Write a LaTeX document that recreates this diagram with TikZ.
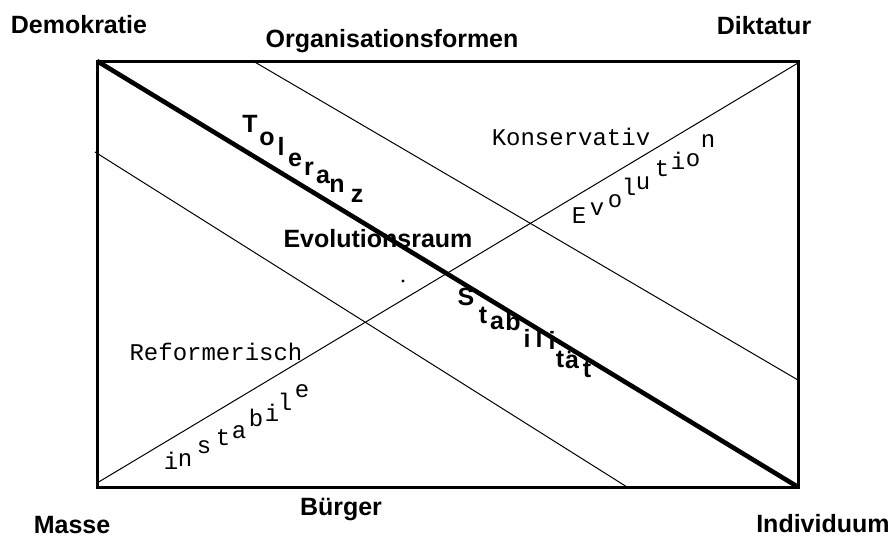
\documentclass[tikz,border=0pt]{standalone}
\usepackage{fontspec}
\setmainfont{Liberation Sans}
\setmonofont{Liberation Mono}
\usepackage{tikz}
\usetikzlibrary{calc}
\tikzset{
  lbl/.style={font=\fontsize{12.5}{14}\selectfont\bfseries, inner sep=0pt},
  mono/.style={font=\fontsize{12}{14}\selectfont\ttfamily, inner sep=0pt},
  frame/.style={line width=1.5pt, line join=miter},
  mainline/.style={line width=2.3pt},
  thinline/.style={line width=0.5pt}
}
\begin{document}
\begin{tikzpicture}[x=0.5pt, y=-0.5pt]
\useasboundingbox (0,0) rectangle (895,537);
% corners
\coordinate (tl) at (97,61);
\coordinate (tr) at (798,61);
\coordinate (br) at (798,487);
\coordinate (bl) at (97,487);
% corner and side labels
\node[lbl] (demo) at (79,25) {Demokratie};
\node[lbl] (orga) at (392,41) {Organisationsformen};
\node[lbl] (dikt) at (764,26) {Diktatur};
\node[lbl] (masse) at (72,525) {Masse};
\node[lbl] (buerger) at (341,509) {Bürger};
\node[lbl, anchor=east] (indi) at (890,524) {Individuum};
% field labels
\node[mono] (kons) at (571,137) {Konservativ};
\node[mono] (ref) at (216,352) {Reformerisch};
\node[lbl] (raum) at (378,239) {Evolutionsraum};
% stepped letters
\foreach \c/\x/\y [count=\i] in {T/250/124, o/267/139, l/281/146, e/295/160,
    r/309/169, a/323/177, n/337/186, z/357/196}
  \node[lbl] (tol\i) at (\x,\y) {\c};
\foreach \c/\x/\y [count=\i] in {S/466/297, t/483/315, a/497/323, b/513/322,
    i/527/338, l/539/338, i/552/340, t/560/359, ä/572/360, t/587/369}
  \node[lbl] (stab\i) at (\x,\y) {\c};
\foreach \c/\x/\y [count=\i] in {i/171/461, n/185/460, s/204/447, t/223/438,
    a/239/432, b/256/418, i/272/413, l/285/402, e/302/391}
  \node[mono] (inst\i) at (\x,\y) {\c};
\foreach \c/\x/\y [count=\i] in {E/579/216, v/597/209, o/615/201, l/629/187,
    u/643/183, t/662/169, i/678/161, o/693/160, n/708/141}
  \node[mono] (evo\i) at (\x,\y) {\c};
% ends of the thin lines
\coordinate (upA) at (253,61);
\coordinate (upB) at (798,380);
\coordinate (loA) at (95,152);
\coordinate (loB) at (627,487);
\coordinate (riseA) at (97,483);
\coordinate (riseB) at (798,63);
% lines
\draw[thinline] (upA) -- (upB);
\draw[thinline] (loA) -- (loB);
\draw[thinline] (riseA) -- (riseB);
\draw[mainline] (tl) -- (br);
\draw[frame] (tl) -- (tr) -- (br) -- (bl) -- cycle;
% centre dot
\fill (403,281) circle (1.6);
\end{tikzpicture}
\end{document}
